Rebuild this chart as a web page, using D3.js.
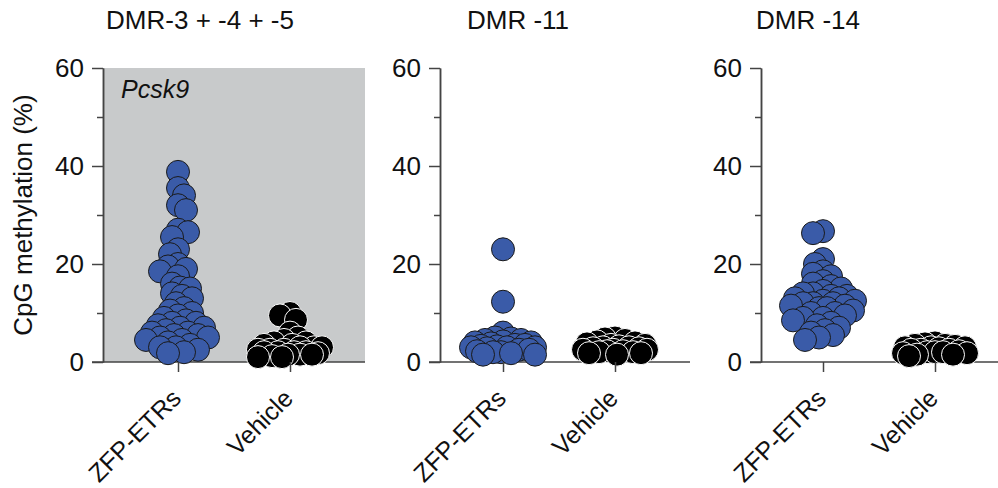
<!DOCTYPE html>
<html lang="en">
<head>
    <meta charset="UTF-8">
    <title>CpG methylation</title>
    <script src="https://cdn.jsdelivr.net/npm/d3@7/dist/d3.min.js"></script>
    <style>
        body {
            margin: 0;
            background: #fff;
        }
        svg text {
            font-family: "Liberation Sans", Arial, sans-serif;
            fill: #111;
        }
        .axis path, .axis line {
            stroke: #444;
            stroke-width: 1.5;
        }
    </style>
</head>
<body>
    <svg width="998" height="488"></svg>
    <script>
        // Data
        const panelTitles = ["DMR-3 + -4 + -5", "DMR -11", "DMR -14"];
        const groups = ["ZFP-ETRs", "Vehicle"];
        const majorTicks = [0, 20, 40, 60];
        const minorTicks = [10, 30, 50];

        const zfpDmr345 = [38.8, 35.5, 34, 32, 31, 27, 26.5, 25.5, 23, 22, 20, 19.5, 19, 18.5, 17.5, 16,
                           15.2, 15, 14, 13.5, 13, 12, 11, 10.5, 10, 9.5, 9, 8.5, 8, 8, 7.5, 7, 7, 6.5,
                           6, 6, 5.5, 5.5, 5, 5, 4.5, 4.5, 4, 3.5, 3, 3, 2.5, 2, 1.8];
        const vehDmr345 = [10, 9.5, 8.6, 6, 5, 4.5, 4, 4, 3.5, 3.5, 3, 3, 3, 2.5, 2.5, 2.5, 2, 2, 2, 2,
                           1.8, 1.5, 1.5, 1.5, 1.2, 1, 1];
        const zfpDmr11 = [23, 12.3, 6, 5, 4.8, 4.5, 4.5, 4.2, 4, 4, 3.8, 3.5, 3.5, 3.3, 3.2, 3, 3, 3,
                          2.8, 2.5, 2.5, 2.2, 2, 2, 1.8, 1.5, 1.5];
        const vehDmr11 = [5, 4.8, 4.5, 4.2, 4, 3.8, 3.5, 3.5, 3.2, 3, 3, 2.8, 2.8, 2.5, 2.5, 2.5, 2.2,
                          2.2, 2, 2, 1.8, 1.8, 1.5];
        const zfpDmr14 = [26.7, 26.3, 21, 20, 18.5, 18, 17.5, 16.5, 16, 15.5, 15, 14.5, 14, 14, 13.5,
                          13.5, 13, 13, 12.5, 12.5, 12, 12, 12, 11.5, 11.5, 11, 11, 10.5, 10, 10, 9.5,
                          9, 9, 8.5, 8, 7.5, 7, 6.5, 6, 5.5, 5, 4.5];
        const vehDmr14 = [4, 3.8, 3.5, 3.5, 3.3, 3, 3, 3, 2.8, 2.5, 2.5, 2.5, 2.2, 2, 2, 2, 1.8, 1.8,
                          1.5, 1.5, 1.2];

        const panelData = [
            [zfpDmr345, vehDmr345],
            [zfpDmr11, vehDmr11],
            [zfpDmr14, vehDmr14]
        ];

        // layout
        const axisX = [103, 440, 761];
        const firstOffset = [75, 63, 62];
        const groupStep = 112;
        const axisEnd = [365, 690, 998];
        const titleX = [200, 518, 808];
        const r = 11.5;
        const colors = {"ZFP-ETRs": "#3a5ba8", "Vehicle": "#000"};
        const strokes = {"ZFP-ETRs": "#1a1a1a", "Vehicle": "#fff"};

        const svg = d3.select("svg");

        const y = d3.scaleLinear().domain([0, 60]).range([362, 68]);

        // simple overlapping beeswarm, points placed from top value down
        function swarm(values, cx) {
            const placed = [];
            const dmin = 8.5, step = 2, maxHalf = 32;
            const order = values.map((v, i) => i).sort((a, b) => values[b] - values[a]);
            const out = new Array(values.length);
            order.forEach((i, k) => {
                const py = y(values[i]);
                let best = 0, bestD = -1;
                const sign = k % 2 === 0 ? 1 : -1;
                for (let s = 0; s <= maxHalf; s += step) {
                    let found = false;
                    for (const dx of (s === 0 ? [0] : [sign * s, -sign * s])) {
                        let md = Infinity;
                        placed.forEach(p => {
                            md = Math.min(md, Math.hypot(p.x - (cx + dx), p.y - py));
                        });
                        if (md >= dmin) { best = dx; found = true; break; }
                        if (md > bestD) { bestD = md; best = dx; }
                    }
                    if (found) break;
                }
                const pt = {x: cx + best, y: py, v: values[i]};
                placed.push(pt);
                out[i] = pt;
            });
            return out;
        }

        panelTitles.forEach((title, p) => {
            const x = d3.scalePoint()
                        .domain(groups)
                        .range([axisX[p] + firstOffset[p], axisX[p] + firstOffset[p] + groupStep]);

            const g = svg.append("g");

            if (p === 0) {
                g.append("rect")
                 .attr("x", axisX[p])
                 .attr("y", y(60))
                 .attr("width", axisEnd[p] - axisX[p])
                 .attr("height", y(0) - y(60))
                 .attr("fill", "#c8cacb");

                g.append("text")
                 .attr("x", axisX[p] + 18)
                 .attr("y", y(60) + 30)
                 .style("font-size", "25px")
                 .style("font-style", "italic")
                 .text("Pcsk9");
            }

            // title
            g.append("text")
             .attr("x", titleX[p])
             .attr("y", 29)
             .attr("text-anchor", "middle")
             .style("font-size", "26px")
             .text(title);

            // y axis: major + minor ticks
            g.append("g")
             .attr("class", "axis")
             .attr("transform", `translate(${axisX[p]},0)`)
             .call(d3.axisLeft(y).tickValues(minorTicks).tickSize(6).tickSizeOuter(0).tickFormat(""));

            g.append("g")
             .attr("class", "axis")
             .attr("transform", `translate(${axisX[p]},0)`)
             .call(d3.axisLeft(y).tickValues(majorTicks).tickSize(11).tickSizeOuter(0).tickPadding(8))
             .selectAll("text")
             .style("font-size", "26px");

            // baseline
            g.append("line")
             .attr("x1", axisX[p] - 11)
             .attr("x2", axisEnd[p])
             .attr("y1", y(0))
             .attr("y2", y(0))
             .attr("stroke", "#444")
             .attr("stroke-width", 1.5);

            // points
            groups.forEach((grp, gi) => {
                const pts = swarm(panelData[p][gi], x(grp));
                g.selectAll(null)
                 .data(pts)
                 .enter().append("circle")
                 .attr("cx", d => d.x)
                 .attr("cy", d => d.y)
                 .attr("r", r)
                 .attr("fill", colors[grp])
                 .attr("stroke", strokes[grp])
                 .attr("stroke-width", 1);
            });

            // x axis
            const xa = g.append("g")
             .attr("class", "axis")
             .attr("transform", `translate(0,${y(0)})`)
             .call(d3.axisBottom(x).tickSize(10).tickSizeOuter(0));
            xa.select(".domain").remove();
            xa.selectAll("text")
              .attr("x", 0)
              .attr("y", 0)
              .attr("dy", null)
              .attr("transform", "translate(4,38) rotate(-45)")
              .style("text-anchor", "end")
              .style("font-size", "25px");
        });

        // y axis label
        svg.append("text")
           .attr("transform", `translate(32,${(y(0) + y(60)) / 2}) rotate(-90)`)
           .attr("text-anchor", "middle")
           .style("font-size", "26px")
           .text("CpG methylation (%)");
    </script>
</body>
</html>
